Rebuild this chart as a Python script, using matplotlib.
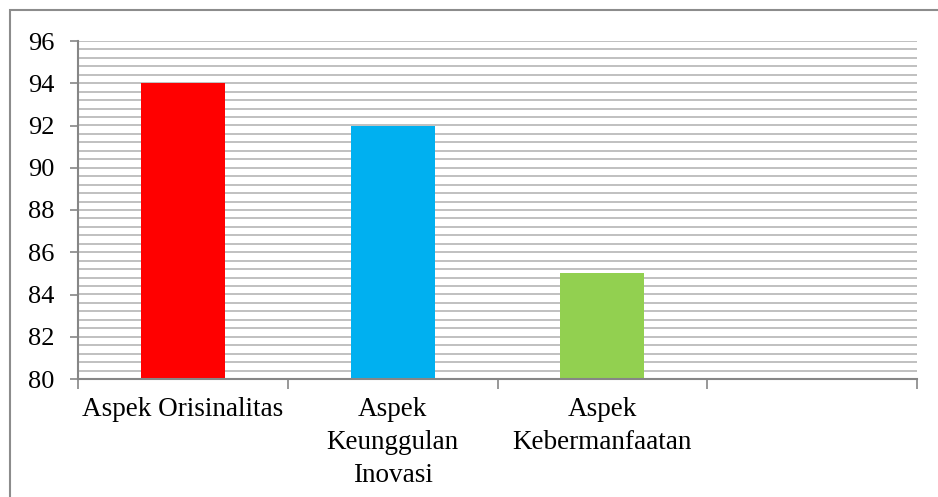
import numpy as np
import matplotlib.pyplot as plt
from matplotlib.patches import Rectangle

categories = ["Aspek Orisinalitas", "Aspek\nKeunggulan\nInovasi", "Aspek\nKebermanfaatan", ""]
values = [94, 92, 85, None]
colors = ["#ff0000", "#00b0f0", "#92d050", "none"]
y_ticks = [80, 82, 84, 86, 88, 90, 92, 94, 96]

plt.rcParams["font.family"] = ["Liberation Serif", "DejaVu Serif"]

W, H = 938, 497
fig = plt.figure(figsize=(W / 100, H / 100), dpi=100)
ax = fig.add_axes([78 / W, 1 - 379 / H, (917 - 78) / W, (379 - 41) / H])

# outer chart frame
fig.patches.append(Rectangle((10 / W, -0.1), 1.2, 1 - 10 / H + 0.1, transform=fig.transFigure,
                             fill=False, edgecolor="#8c8c8c", linewidth=1.5))

x = np.arange(len(categories))
for xi, v, c in zip(x, values, colors):
    if v is not None:
        ax.bar(xi, v - 80, bottom=80, width=0.4, color=c, zorder=3)

ax.set_ylim(80, 96)
ax.set_xlim(-0.5, len(categories) - 0.5)

# horizontal grid every 0.4
for g in np.arange(80.4, 96.01, 0.4):
    ax.axhline(g, color="#c0c0c0", linewidth=1.4, zorder=1)

ax.set_yticks(y_ticks)
ax.set_yticklabels([str(t) for t in y_ticks], fontsize=19)
ax.tick_params(axis="y", direction="out", length=6, width=1.2, color="#868686", pad=11)

ax.set_xticks(x)
ax.set_xticklabels(categories, fontsize=19.5, linespacing=1.42)
ax.tick_params(axis="x", length=0, pad=13)
ax.set_xticks(np.arange(-0.5, len(categories), 1.0), minor=True)
ax.tick_params(axis="x", which="minor", direction="out", length=7, width=1.2, color="#868686")

for s in ["top", "right"]:
    ax.spines[s].set_visible(False)
for s in ["left", "bottom"]:
    ax.spines[s].set_color("#868686")
    ax.spines[s].set_linewidth(1.5)
    ax.spines[s].set_zorder(4)

fig.savefig("out.png", dpi=100)
